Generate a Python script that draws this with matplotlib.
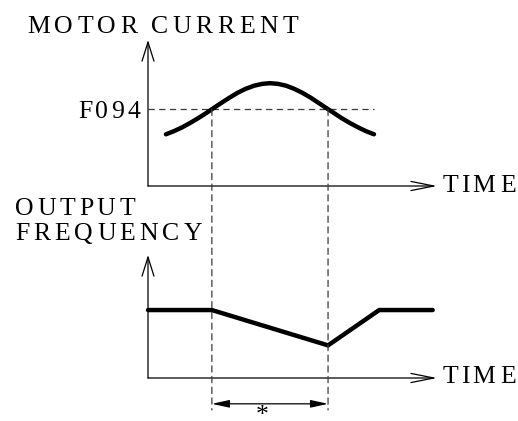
import matplotlib
matplotlib.use("Agg")
import matplotlib.pyplot as plt
from matplotlib.patches import ArrowStyle, ConnectionPatch

plt.rcParams['lines.scale_dashes'] = False

# ---------------- data ----------------
# motor current (F094 level = 100) vs time
cur_time = [0.62, 0.90, 1.18, 1.45, 1.73, 2.01, 2.28, 2.56, 2.84, 3.11, 3.39, 3.67, 3.95,
            4.22, 4.50, 4.78, 5.05, 5.33, 5.61, 5.88, 6.16, 6.44, 6.71, 6.99, 7.27, 7.54, 7.82]
cur_vals = [67.3, 71.4, 76.3, 81.9, 88.1, 94.8, 101.7, 108.7, 115.4, 121.5, 126.6, 130.5, 132.9,
            133.8, 132.9, 130.5, 126.6, 121.5, 115.4, 108.7, 101.7, 94.8, 88.1, 81.9, 76.3, 71.4, 67.3]
f094_level = 100
f094_label = "F094"

# output frequency (normal level = 100) vs time
freq_time = [0.0, 2.21, 6.23, 8.00, 9.85]
freq_vals = [100, 100, 48, 100, 100]

# interval where current exceeds F094
event_times = [2.21, 6.23]

top_title = "MOTOR CURRENT"
bot_title = ["OUTPUT", "FREQUENCY"]
time_label = "TIM E"
interval_label = "*"

# ---------------- layout ----------------
W, H = 518, 421
fig = plt.figure(figsize=(W / 100, H / 100), dpi=100)
fig.patch.set_facecolor("white")


def fx(px):
    return px / W


def fy(py):
    return 1 - py / H


FONT = ["Liberation Serif", "DejaVu Serif"]
FS = 18.5

ax_top = fig.add_axes([fx(148), fy(186), fx(437) - fx(148), fy(40) - fy(186)])
ax_bot = fig.add_axes([fx(148), fy(378), fx(437) - fx(148), fy(255) - fy(378)])
ax_top.set_xlim(0, 10)
ax_top.set_ylim(0, 190)
ax_bot.set_xlim(0, 10)
ax_bot.set_ylim(0, 181)
for ax in (ax_top, ax_bot):
    ax.axis("off")


def axis_arrows(ax, ytop):
    # x axis
    ax.annotate("", xy=(10, 0), xytext=(0, 0), xycoords="data",
                arrowprops=dict(arrowstyle=ArrowStyle("->", head_length=16.5, head_width=3.3),
                                lw=0.9, color="black", shrinkA=0, shrinkB=0, mutation_scale=1),
                annotation_clip=False)
    # y axis
    ax.annotate("", xy=(0, ytop), xytext=(0, 0), xycoords="data",
                arrowprops=dict(arrowstyle=ArrowStyle("->", head_length=13.7, head_width=4.3),
                                lw=0.9, color="black", shrinkA=0, shrinkB=0, mutation_scale=1),
                annotation_clip=False)


axis_arrows(ax_top, 190)
axis_arrows(ax_bot, 181)

DASH = (0, (4.5, 3.2))
GRAY = "#3a3a3a"

# F094 dashed line
ax_top.plot([0, cur_time[-1]], [f094_level, f094_level], color=GRAY, lw=0.9,
            linestyle=DASH, clip_on=False)

# curves
ax_top.plot(cur_time, cur_vals, color="black", lw=3.2, solid_capstyle="round",
            solid_joinstyle="round", clip_on=False, zorder=5)
ax_bot.plot(freq_time, freq_vals, color="black", lw=3.2, solid_capstyle="round",
            solid_joinstyle="miter", clip_on=False, zorder=5)

# vertical dashed lines across both panels
for t in event_times:
    con = ConnectionPatch(xyA=(t, f094_level), coordsA=ax_top.transData,
                          xyB=(t, -47), coordsB=ax_bot.transData,
                          color=GRAY, lw=0.9, linestyle=DASH)
    fig.add_artist(con)

# dimension arrow
ax_bot.annotate("", xy=(event_times[0], -38), xytext=(event_times[1], -38),
                arrowprops=dict(arrowstyle=ArrowStyle("<|-|>", head_length=10.5, head_width=2.3),
                                lw=0.9, color="black", shrinkA=0, shrinkB=0, mutation_scale=1),
                annotation_clip=False)
mid = (event_times[0] + event_times[1]) / 2
ax_bot.text(mid - 0.28, -65, interval_label, fontsize=FS, family=FONT, ha="center",
            va="baseline", clip_on=False)

renderer = fig.canvas.get_renderer()


def spaced_text(s, left, right, baseline, word_gap=8, size=FS):
    arts = []
    total = 0.0
    for ch in s:
        if ch == " ":
            arts.append(None)
            continue
        t = fig.text(0, 0, ch, fontsize=size, family=FONT, ha="left", va="baseline")
        w = t.get_window_extent(renderer).width
        arts.append((t, w))
        total += w
    n_letters = sum(1 for a in arts if a is not None)
    n_sp = sum(1 for a in arts if a is None)
    track = (right - left - total - n_sp * word_gap) / max(n_letters - 1, 1)
    x = left
    for a in arts:
        if a is None:
            x += word_gap
            continue
        t, w = a
        t.set_position((fx(x), fy(baseline)))
        x += w + track


spaced_text(top_title, 27, 298, 33, word_gap=9)
spaced_text(f094_label, 78, 140, 118)
spaced_text(time_label, 443, 516, 192, word_gap=3)
spaced_text(time_label, 443, 516, 383, word_gap=3)
spaced_text(bot_title[0], 15, 135, 215)
spaced_text(bot_title[1], 15, 202, 240)

fig.savefig("out.png", dpi=100, facecolor="white")
